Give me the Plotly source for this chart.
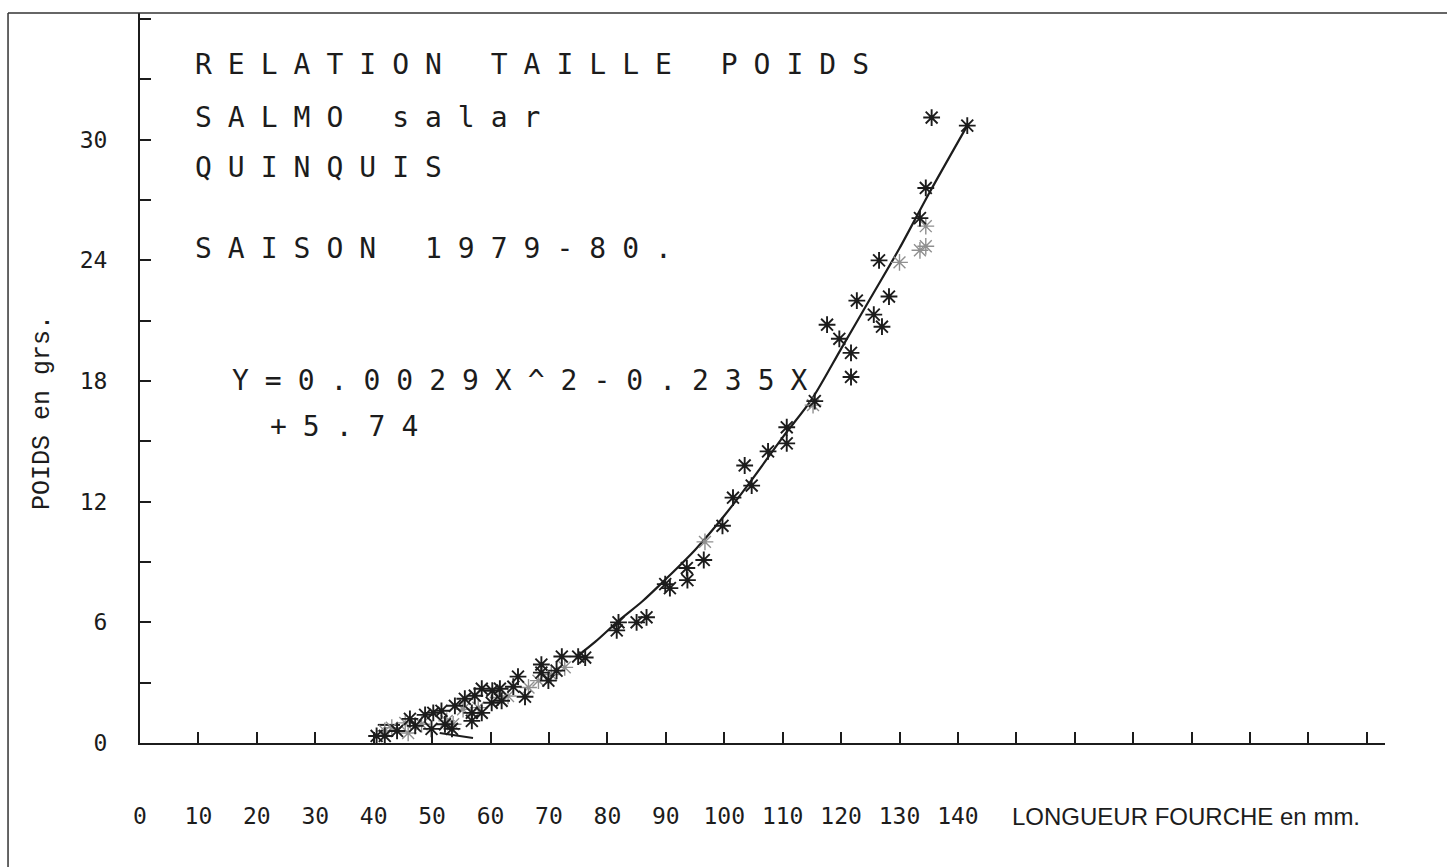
import plotly.graph_objects as go

# ---- data ----
# dark asterisks: fork length (mm), weight (g)
dark_len = [135.5, 141.6, 134.5, 133.5, 126.5, 128.2, 122.7, 125.6, 127.0, 117.6,
            119.7, 121.7, 121.7, 115.5, 110.7, 110.7, 107.5, 103.5, 104.7, 101.5,
            99.7, 96.5, 93.6, 93.7, 89.9, 90.7, 81.9, 85.0, 86.7, 81.6,
            76.2, 75.0, 72.2, 71.3, 68.7, 68.7, 69.9, 64.7, 63.9, 65.9,
            61.6, 60.3, 58.5, 57.3, 60.2, 61.9, 55.6, 53.9, 51.6, 50.2,
            56.8, 58.5, 56.8, 48.8, 46.2, 47.1, 44.0, 41.9, 40.5, 49.9,
            52.2, 53.4]
dark_wt = [31.1, 30.7, 27.6, 26.1, 24.0, 22.2, 22.0, 21.3, 20.7, 20.8,
           20.1, 19.4, 18.2, 17.0, 15.7, 14.9, 14.5, 13.8, 12.8, 12.2,
           10.8, 9.1, 8.7, 8.1, 7.9, 7.7, 6.0, 6.0, 6.25, 5.6,
           4.25, 4.3, 4.3, 3.6, 3.9, 3.5, 3.1, 3.3, 2.8, 2.3,
           2.7, 2.6, 2.7, 2.35, 2.0, 2.1, 2.2, 1.85, 1.6, 1.5,
           1.5, 1.5, 1.1, 1.4, 1.2, 0.85, 0.6, 0.35, 0.35, 0.7,
           0.93, 0.7]

# faint (dotted) asterisks
light_len = [134.5, 133.5, 130.0, 134.5, 96.7, 115.2, 45.4, 48.2, 52.5, 53.6,
             55.3, 57.9, 61.3, 63.0, 66.5, 68.2, 70.4, 72.7, 43.1, 41.9, 45.9]
light_wt = [25.7, 24.5, 23.9, 24.7, 10.0, 16.8, 1.0, 0.93, 1.1, 0.93,
            1.68, 1.76, 2.26, 2.34, 2.76, 3.1, 3.4, 3.76, 0.76, 0.6, 0.5]

# fitted curve as drawn on the plot
curve_len = [75, 78, 82, 86, 90, 95, 100, 105, 110, 115, 120, 125, 130, 135, 141.6]
curve_wt = [4.35, 5.05, 6.1, 7.05, 8.15, 9.6, 11.3, 13.2, 15.2, 17.1, 19.6, 22.1, 24.6, 27.3, 30.7]

# short stray pen strokes near the origin
seg_len = [40.7, 44.5, None, 51.3, 57.0]
seg_wt = [0.9, 0.9, None, 0.5, 0.25]

x_ticks = list(range(0, 220, 10))
x_ticktext = [str(v) if v <= 140 else "" for v in x_ticks]
y_ticks = list(range(0, 37, 3))
y_ticktext = [str(v) if (v % 6 == 0 and v <= 30) else "" for v in y_ticks]
y_long_ticks = [18, 36.25]

title_lines = ["RELATION TAILLE POIDS", "SALMO salar", "QUINQUIS", "SAISON 1979-80."]
eq_lines = ["Y=0.0029X^2-0.235X", "+5.74"]
x_title = "LONGUEUR FOURCHE en mm."
y_title = "POIDS en grs."

INK = "#1c1c1c"
MONO = "DejaVu Sans Mono"

fig = go.Figure()
fig.add_trace(go.Scatter(x=curve_len, y=curve_wt, mode="lines",
                         line=dict(color=INK, width=2.2, shape="spline", smoothing=0.8),
                         hoverinfo="skip"))
fig.add_trace(go.Scatter(x=seg_len, y=seg_wt, mode="lines",
                         line=dict(color=INK, width=2), hoverinfo="skip"))
fig.add_trace(go.Scatter(x=light_len, y=light_wt, mode="markers",
                         marker=dict(symbol="asterisk-open", size=14, color="#8f8f8f",
                                     line=dict(color="#8f8f8f", width=1.4))))
fig.add_trace(go.Scatter(x=dark_len, y=dark_wt, mode="markers",
                         marker=dict(symbol="asterisk-open", size=14, color=INK,
                                     line=dict(color=INK, width=1.9))))


def spaced(s, ls):
    return f'<span style="letter-spacing:{ls}px">{s}</span>'


annotations = []
title_y = [0.930, 0.8575, 0.7877, 0.678]
for txt, yy in zip(title_lines, title_y):
    annotations.append(dict(text=spaced(txt, 16), x=0.0426, y=yy, xref="paper", yref="paper",
                            xanchor="left", yanchor="middle", showarrow=False,
                            font=dict(family=MONO, size=28, color=INK)))
eq_pos = [(0.0723, 0.497), (0.1028, 0.433)]
for txt, (xx, yy) in zip(eq_lines, eq_pos):
    annotations.append(dict(text=spaced(txt, 16), x=xx, y=yy, xref="paper", yref="paper",
                            xanchor="left", yanchor="middle", showarrow=False,
                            font=dict(family=MONO, size=28, color=INK)))
annotations.append(dict(text=x_title, x=0.6988, y=-0.1, xref="paper", yref="paper",
                        xanchor="left", yanchor="middle", showarrow=False,
                        font=dict(family="Liberation Sans", size=24, color=INK)))
annotations.append(dict(text=y_title, x=-0.0787, y=0.452, xref="paper", yref="paper",
                        xanchor="center", yanchor="middle", showarrow=False, textangle=-90,
                        font=dict(family="Liberation Mono", size=25, color=INK)))

shapes = [
    dict(type="line", xref="paper", yref="paper", x0=-0.106, x1=1.06, y0=1.0, y1=1.0,
         line=dict(color="#333333", width=1.5)),
    dict(type="line", xref="paper", yref="paper", x0=-0.106, x1=-0.106, y0=1.0, y1=-0.18,
         line=dict(color="#333333", width=1.5)),
]

fig.update_layout(
    width=1447, height=867,
    margin=dict(l=140, r=62, t=13, b=124),
    paper_bgcolor="white", plot_bgcolor="white",
    showlegend=False,
    annotations=annotations,
    shapes=shapes,
    xaxis=dict(range=[0, 213.1], tickmode="array", tickvals=x_ticks, ticktext=x_ticktext,
               ticks="inside", ticklen=11, tickwidth=2, tickcolor=INK,
               showline=True, linecolor=INK, linewidth=2, showgrid=False, zeroline=False,
               ticklabelstandoff=51,
               tickfont=dict(family=MONO, size=23, color=INK)),
    yaxis=dict(range=[0, 36.3], tickmode="array", tickvals=y_ticks, ticktext=y_ticktext,
               ticks="inside", ticklen=11, tickwidth=2, tickcolor=INK,
               showline=True, linecolor=INK, linewidth=2, showgrid=False, zeroline=False,
               ticklabelstandoff=26,
               tickfont=dict(family=MONO, size=23, color=INK)),
    yaxis2=dict(range=[0, 36.3], overlaying="y", anchor="x", side="left",
                tickmode="array", tickvals=y_long_ticks, ticks="inside", ticklen=22,
                tickwidth=2, tickcolor=INK, showticklabels=False, showline=False,
                showgrid=False, zeroline=False),
)

fig.write_html("out.html")
